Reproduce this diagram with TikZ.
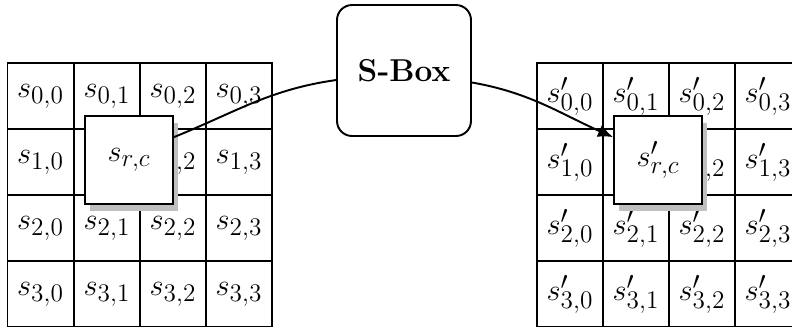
\documentclass[tikz,border=0pt]{standalone}
\usetikzlibrary{shadows,arrows.meta}
\begin{document}
\begin{tikzpicture}
  [x=0.02cm, y=-0.02cm,
  cellule/.style={
    draw=black,
    rectangle,
    minimum size=1.32cm,
    inner sep=0pt,
    line width=1.1pt,
    font=\fontsize{19}{22}\selectfont},
  courante/.style={
    draw=black,
    fill=white,
    rectangle,
    minimum size=1.76cm,
    inner sep=0pt,
    line width=1.1pt,
    font=\fontsize{19}{22}\selectfont,
    drop shadow={shadow xshift=0.1cm, shadow yshift=-0.14cm, fill=black!25, opacity=1}},
  boite/.style={
    draw=black,
    fill=white,
    rectangle,
    rounded corners=0.3cm,
    minimum width=2.68cm,
    minimum height=2.62cm,
    line width=1.1pt,
    font=\fontsize{18}{20}\selectfont\bfseries}]

  \clip (0,0) rectangle (792,326);

  % etat d'entree
  \node [cellule] at (40.5,96) (a00) {$s_{0,0}$};
  \node [cellule] at (107,96) (a01) {$s_{0,1}$};
  \node [cellule] at (173,96) (a02) {$s_{0,2}$};
  \node [cellule] at (239,96) (a03) {$s_{0,3}$};
  \node [cellule] at (40.5,162) (a10) {$s_{1,0}$};
  \node [cellule] at (107,162) (a11) {};
  \node [cellule] at (173,162) (a12) {$s_{1,2}$};
  \node [cellule] at (239,162) (a13) {$s_{1,3}$};
  \node [cellule] at (40.5,228) (a20) {$s_{2,0}$};
  \node [cellule] at (107,228) (a21) {$s_{2,1}$};
  \node [cellule] at (173,228) (a22) {$s_{2,2}$};
  \node [cellule] at (239,228) (a23) {$s_{2,3}$};
  \node [cellule] at (40.5,294) (a30) {$s_{3,0}$};
  \node [cellule] at (107,294) (a31) {$s_{3,1}$};
  \node [cellule] at (173,294) (a32) {$s_{3,2}$};
  \node [cellule] at (239,294) (a33) {$s_{3,3}$};

  % etat de sortie
  \node [cellule] at (570,96) (b00) {$s'_{0,0}$};
  \node [cellule] at (636,96) (b01) {$s'_{0,1}$};
  \node [cellule] at (702,96) (b02) {$s'_{0,2}$};
  \node [cellule] at (768,96) (b03) {$s'_{0,3}$};
  \node [cellule] at (570,162) (b10) {$s'_{1,0}$};
  \node [cellule] at (636,162) (b11) {};
  \node [cellule] at (702,162) (b12) {$s'_{1,2}$};
  \node [cellule] at (768,162) (b13) {$s'_{1,3}$};
  \node [cellule] at (570,228) (b20) {$s'_{2,0}$};
  \node [cellule] at (636,228) (b21) {$s'_{2,1}$};
  \node [cellule] at (702,228) (b22) {$s'_{2,2}$};
  \node [cellule] at (768,228) (b23) {$s'_{2,3}$};
  \node [cellule] at (570,294) (b30) {$s'_{3,0}$};
  \node [cellule] at (636,294) (b31) {$s'_{3,1}$};
  \node [cellule] at (702,294) (b32) {$s'_{3,2}$};
  \node [cellule] at (768,294) (b33) {$s'_{3,3}$};

  \node [courante] at (129,160) (src) {$s_{r,c}$};
  \node [courante] at (658,160) (dst) {$s'_{r,c}$};

  \node [boite] at (404,70.5) (sbox) {S-Box};

  \draw [line width=1.1pt] (src.27) to [out=22, in=188] (sbox.188);
  \draw [line width=1.1pt, -{Latex[length=0.3cm, width=0.26cm]}]
    (sbox.-10) to [out=-10, in=156] (dst.153);
\end{tikzpicture}
\end{document}
